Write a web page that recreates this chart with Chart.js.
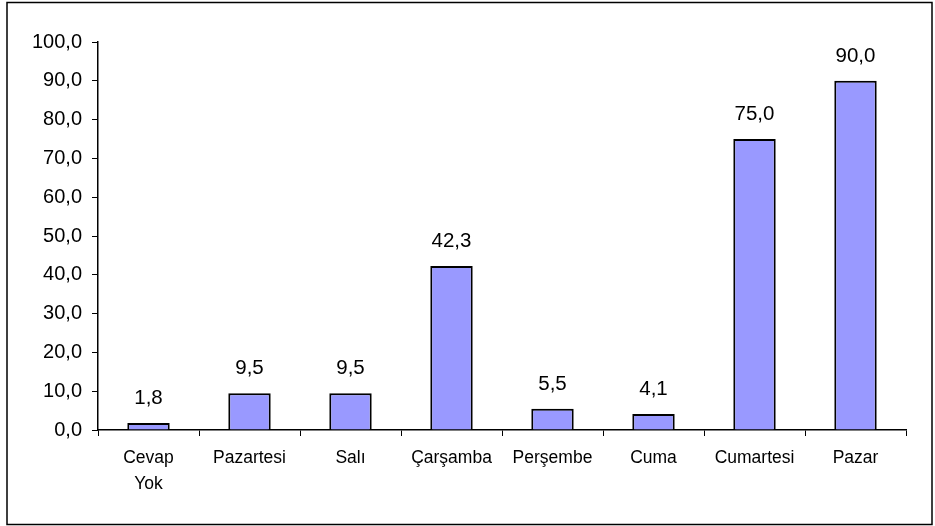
<!DOCTYPE html>
<html>
<head>
<meta charset="utf-8">
<script src="https://cdn.jsdelivr.net/npm/chart.js@4.4.0/dist/chart.umd.min.js"></script>
<style>
  html, body { margin: 0; padding: 0; background: #fff; }
  #wrap { width: 935px; height: 526px; position: relative; }
</style>
</head>
<body>
<div id="wrap"><canvas id="dayChart" width="935" height="526"></canvas></div>
<script>
var days = [["Cevap", "Yok"], "Pazartesi", "Salı", "Çarşamba", "Perşembe", "Cuma", "Cumartesi", "Pazar"];
var percents = [1.8, 9.5, 9.5, 42.3, 5.5, 4.1, 75.0, 90.0];

function trNumber(v) {
  return v.toFixed(1).replace(".", ",");
}

// frame around the whole picture
var framePlugin = {
  id: "frame",
  afterDraw: function(chart) {
    var ctx = chart.ctx;
    ctx.save();
    ctx.strokeStyle = "#000";
    ctx.lineWidth = 1.5;
    ctx.strokeRect(7, 2.5, 925, 522);
    ctx.restore();
  }
};

// value labels above bars
var valueLabels = {
  id: "valueLabels",
  afterDatasetsDraw: function(chart) {
    var ctx = chart.ctx;
    var meta = chart.getDatasetMeta(0);
    ctx.save();
    ctx.font = "20.5px 'Liberation Sans', Arial, sans-serif";
    ctx.fillStyle = "#000";
    ctx.textAlign = "center";
    ctx.textBaseline = "alphabetic";
    meta.data.forEach(function(bar, i) {
      ctx.fillText(trNumber(percents[i]), bar.x, bar.y - 19);
    });
    ctx.restore();
  }
};

var ctx = document.getElementById("dayChart").getContext("2d");
var chart = new Chart(ctx, {
  type: "bar",
  data: {
    labels: days,
    datasets: [{
      data: percents,
      backgroundColor: "#9999FF",
      borderColor: "#000",
      borderWidth: 2,
      barPercentage: 0.42,
      categoryPercentage: 1.0
    }]
  },
  options: {
    responsive: false,
    animation: false,
    events: [],
    layout: { padding: { left: 0, right: 29, top: 42, bottom: 0 } },
    plugins: {
      legend: { display: false },
      tooltip: { enabled: false }
    },
    scales: {
      x: {
        offset: true,
        grid: {
          offset: true,
          drawOnChartArea: false,
          drawTicks: true,
          tickLength: 6,
          color: "#000"
        },
        border: { color: "#000", width: 1.5 },
        ticks: {
          color: "#000",
          padding: 9,
          maxRotation: 0,
          autoSkip: false,
          font: { family: "'Liberation Sans', Arial, sans-serif", size: 17.5, lineHeight: 1.5 }
        },
        afterFit: function(scale) { scale.height = 96; }
      },
      y: {
        min: 0,
        max: 100,
        ticks: {
          stepSize: 10,
          color: "#000",
          padding: 10,
          font: { family: "'Liberation Sans', Arial, sans-serif", size: 20 },
          callback: function(v) { return trNumber(v); }
        },
        grid: {
          drawOnChartArea: false,
          drawTicks: true,
          tickLength: 6,
          color: "#000"
        },
        border: { color: "#000", width: 1.5 },
        afterFit: function(scale) { scale.width = 98; }
      }
    }
  },
  plugins: [framePlugin, valueLabels]
});
</script>
</body>
</html>
